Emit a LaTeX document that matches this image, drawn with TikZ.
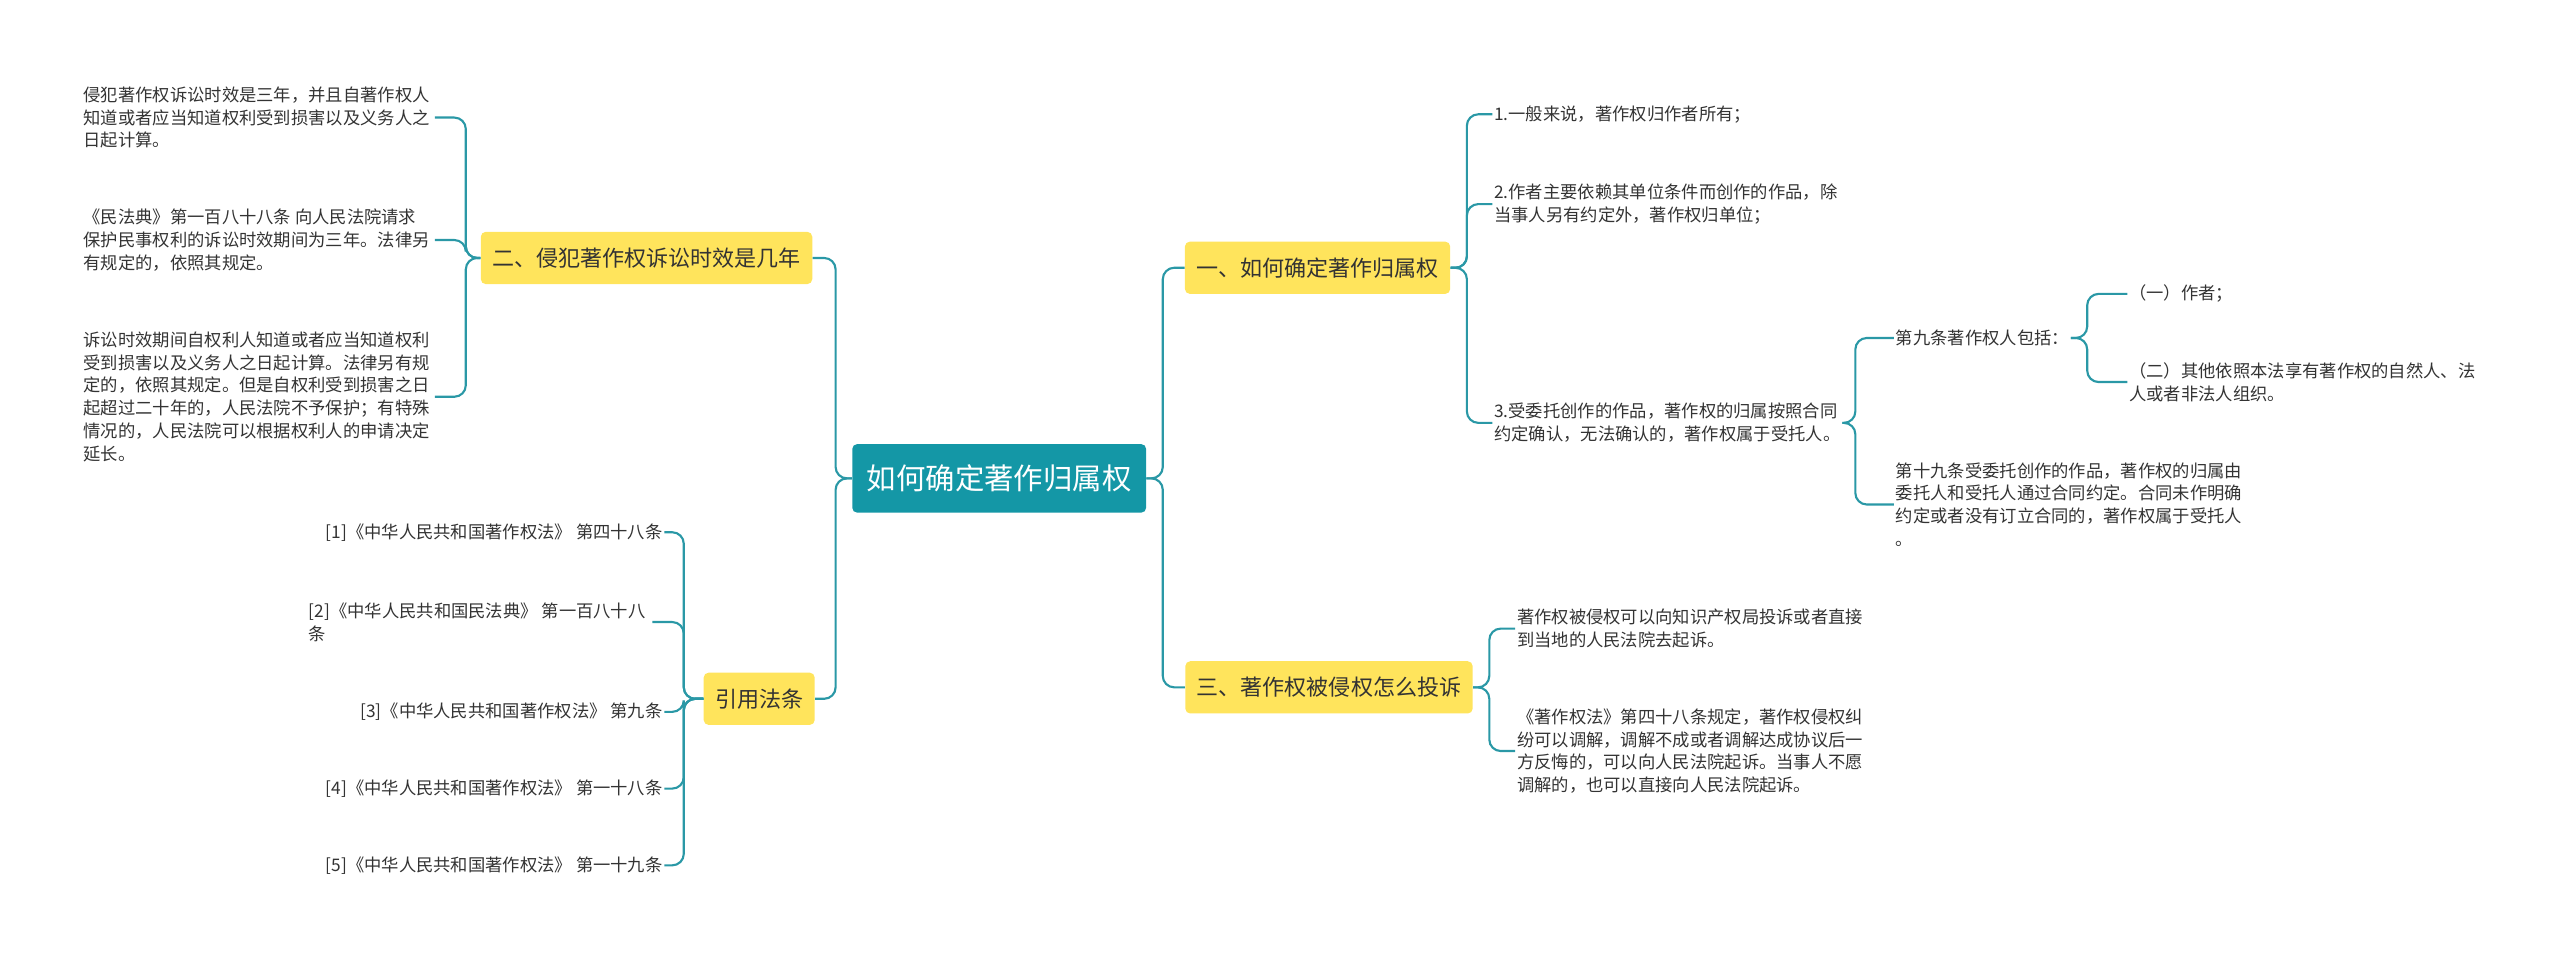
\documentclass[tikz,border=0pt]{standalone}
\usepackage{fontspec}
\setmainfont{Noto Sans CJK SC}
\definecolor{tealbox}{HTML}{1497A6}
\definecolor{yelbox}{HTML}{FFE45C}
\definecolor{conncol}{HTML}{2A98A6}
\definecolor{txtcol}{HTML}{333333}
\tikzset{
  rootbox/.style={fill=tealbox, rounded corners=3pt, text=white, font=\fontsize{18}{22}\selectfont, minimum height=42pt, inner xsep=9pt},
  branchbox/.style={fill=yelbox, rounded corners=3pt, text=txtcol, font=\fontsize{13.5}{16}\selectfont, minimum height=32pt, inner xsep=7pt},
  leaftext/.style={text=txtcol, font=\fontsize{10.6}{14}\selectfont, align=left, inner sep=1pt},
  leafright/.style={leaftext, align=right},
  conn/.style={draw=conncol, line width=1.3pt, rounded corners=7pt}
}
\begin{document}
\begin{tikzpicture}[x=1pt,y=-1pt]
\useasboundingbox (0,0) rectangle (1568,590);
% root and branches
\node[rootbox] (root) at (612,293) {如何确定著作归属权};
\node[branchbox] (b1) at (807,164) {一、如何确定著作归属权};
\node[branchbox] (b3) at (814,421) {三、著作权被侵权怎么投诉};
\node[branchbox] (b2) at (396,158) {二、侵犯著作权诉讼时效是几年};
\node[branchbox] (b4) at (465,428) {引用法条};
% branch 1 leaves
\node[leaftext, anchor=west] (r1) at (914,70) {1.一般来说，著作权归作者所有；};
\node[leaftext, anchor=west] (r2) at (914,125) {2.作者主要依赖其单位条件而创作的作品，除\\当事人另有约定外，著作权归单位；};
\node[leaftext, anchor=west] (r3) at (914,259) {3.受委托创作的作品，著作权的归属按照合同\\约定确认，无法确认的，著作权属于受托人。};
\node[leaftext, anchor=west] (r31) at (1160,207) {第九条著作权人包括：};
\node[leaftext, anchor=west] (r311) at (1303,180) {（一）作者；};
\node[leaftext, anchor=west] (r312) at (1303,234) {（二）其他依照本法享有著作权的自然人、法\\人或者非法人组织。};
\node[leaftext, anchor=west] (r32) at (1160,309) {第十九条受委托创作的作品，著作权的归属由\\委托人和受托人通过合同约定。合同未作明确\\约定或者没有订立合同的，著作权属于受托人\\。};
% branch 3 leaves
\node[leaftext, anchor=west] (s1) at (928,385) {著作权被侵权可以向知识产权局投诉或者直接\\到当地的人民法院去起诉。};
\node[leaftext, anchor=west] (s2) at (928,460) {《著作权法》第四十八条规定，著作权侵权纠\\纷可以调解，调解不成或者调解达成协议后一\\方反悔的，可以向人民法院起诉。当事人不愿\\调解的，也可以直接向人民法院起诉。};
% branch 2 leaves
\node[leaftext, anchor=west] (l1) at (50,72) {侵犯著作权诉讼时效是三年，并且自著作权人\\知道或者应当知道权利受到损害以及义务人之\\日起计算。};
\node[leaftext, anchor=west] (l2) at (50,147) {《民法典》第一百八十八条 向人民法院请求\\保护民事权利的诉讼时效期间为三年。法律另\\有规定的，依照其规定。};
\node[leaftext, anchor=west] (l3) at (50,243) {诉讼时效期间自权利人知道或者应当知道权利\\受到损害以及义务人之日起计算。法律另有规\\定的，依照其规定。但是自权利受到损害之日\\起超过二十年的，人民法院不予保护；有特殊\\情况的，人民法院可以根据权利人的申请决定\\延长。};
% citation leaves
\node[leafright, anchor=east] (c1) at (407,326) {[1]《中华人民共和国著作权法》 第四十八条};
\node[leaftext, anchor=west] (c2) at (188,381) {[2]《中华人民共和国民法典》 第一百八十八\\条};
\node[leafright, anchor=east] (c3) at (407,436) {[3]《中华人民共和国著作权法》 第九条};
\node[leafright, anchor=east] (c4) at (407,483) {[4]《中华人民共和国著作权法》 第一十八条};
\node[leafright, anchor=east] (c5) at (407,530) {[5]《中华人民共和国著作权法》 第一十九条};
% connectors
\foreach \b in {b1,b3}
  \draw[conn] (root.east) -- ++(10,0) |- (\b.west);
\foreach \b in {b2,b4}
  \draw[conn] (root.west) -- ++(-10,0) |- (\b.east);
\foreach \l in {r1,r2,r3}
  \draw[conn] (b1.east) -- ++(10,0) |- (\l.west);
\foreach \l in {r31,r32}
  \draw[conn] (r3.east) -- ++(8,0) |- (\l.west);
\foreach \l in {r311,r312}
  \draw[conn] (r31.east) -- ++(10,0) |- (\l.west);
\foreach \l in {s1,s2}
  \draw[conn] (b3.east) -- ++(10,0) |- (\l.west);
\foreach \l in {l1,l2,l3}
  \draw[conn] (b2.west) -- ++(-9,0) |- ([xshift=2pt]\l.east);
\foreach \l in {c1,c3,c4,c5}
  \draw[conn] (b4.west) -- ++(-12,0) |- (\l.east);
\draw[conn] (b4.west) -- ++(-12,0) |- ([xshift=3pt]c2.east);
\end{tikzpicture}
\end{document}
